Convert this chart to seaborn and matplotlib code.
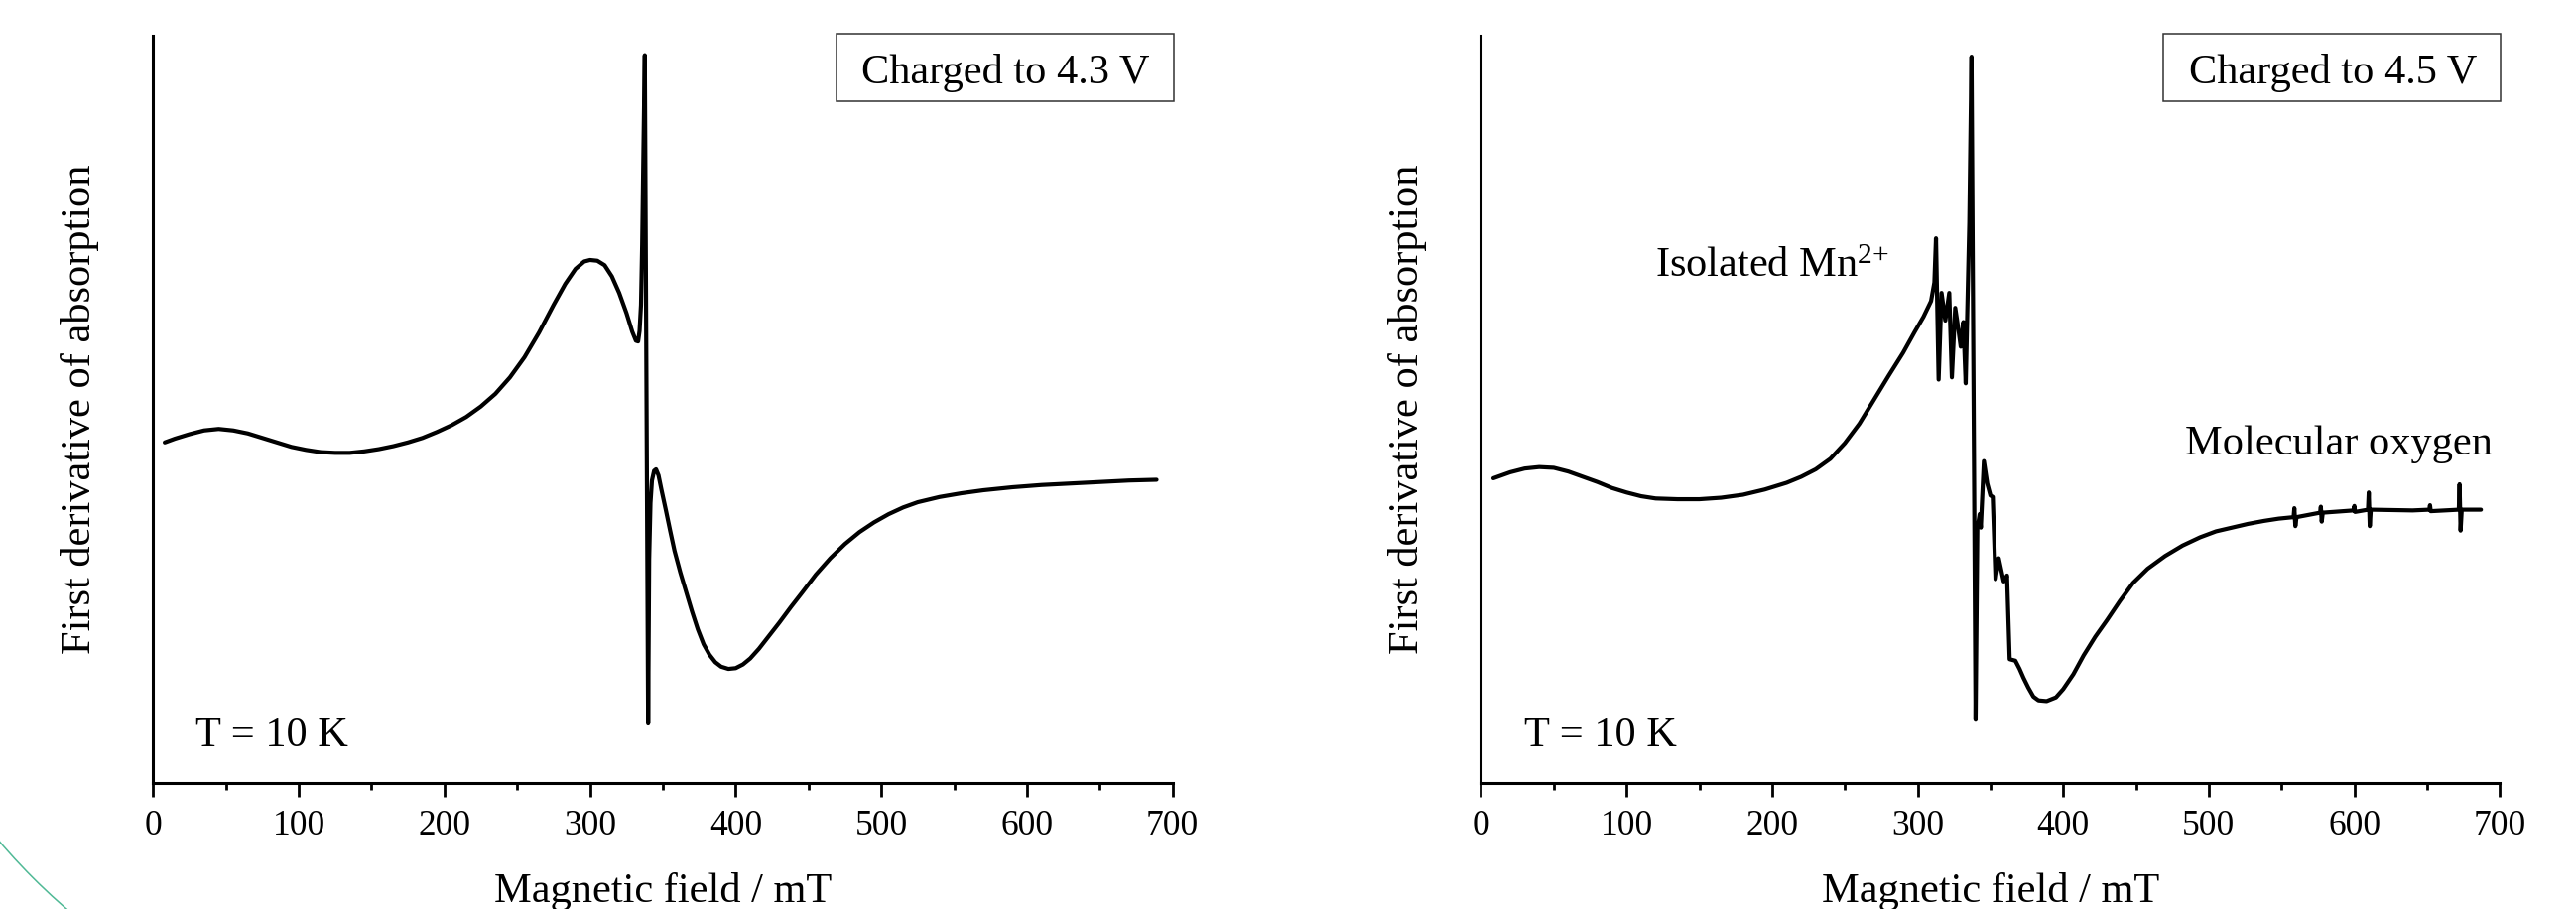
import matplotlib
matplotlib.use("Agg")
import matplotlib.pyplot as plt
from matplotlib.patches import Rectangle, Arc
import seaborn as sns
import pandas as pd

# ---------------- data (arbitrary intensity units) ----------------
field_43 = [8, 15, 25, 35, 45, 55, 65, 75, 85, 95, 105, 115, 125, 135, 145, 155, 165, 175,
            185, 195, 205, 215, 225, 235, 245, 255, 265, 275, 283, 290, 296, 300, 305, 310,
            315, 320, 325, 329, 331.5, 333, 334, 335, 335.8, 336.7, 337.6, 339.9, 340.6,
            341.5, 342.5, 344, 345.3, 347, 349, 352, 355, 358, 362, 366, 370, 374, 378,
            382, 386, 390, 395, 400, 405, 410, 416, 422, 430, 438, 446, 455, 465, 475, 485,
            495, 505, 515, 525, 540, 555, 570, 590, 610, 630, 650, 670, 689]
signal_43 = [45.6, 46.1, 46.7, 47.2, 47.4, 47.2, 46.8, 46.2, 45.6, 45.0, 44.6, 44.3, 44.2,
             44.2, 44.4, 44.7, 45.1, 45.6, 46.2, 47.0, 47.9, 49.0, 50.4, 52.1, 54.3, 57.0,
             60.3, 64.0, 66.8, 68.8, 69.8, 70.0, 69.9, 69.3, 67.8, 65.6, 62.9, 60.4, 59.2,
             59.1, 60.5, 64.0, 72.0, 85.0, 97.4, 8.0, 30.0, 37.5, 40.5, 41.8, 42.0, 41.2,
             39.3, 36.6, 33.8, 31.1, 28.2, 25.6, 23.0, 20.6, 18.6, 17.2, 16.2, 15.6, 15.3,
             15.4, 15.9, 16.7, 18.0, 19.5, 21.5, 23.6, 25.6, 27.9, 30.1, 32.0, 33.6, 34.9,
             36.0, 36.9, 37.6, 38.3, 38.8, 39.2, 39.6, 39.9, 40.1, 40.3, 40.5, 40.6]

field_45 = [8.5, 20, 30, 40, 50, 60, 70, 80, 90, 100, 110, 120, 135, 150, 165, 180, 195, 210,
            220, 230, 240, 250, 260, 270, 280, 290, 298, 304, 309.2, 311.5, 312.6, 314.4,
            316.4, 319.0, 321.7, 323.5, 325.8, 328.0, 329.6, 331.4, 333.0, 335.5, 337.0,
            339.8, 341.0, 342.6, 343.4, 345.5, 347.8, 350.0, 351.6, 353.5, 355.7, 359.1,
            361.4, 363.2, 367.1, 370, 372.7, 376, 379.5, 383, 388.6, 395, 400, 407, 414,
            422, 430, 439, 448, 458, 470, 482, 494, 505, 516, 527, 538, 548, 558.3, 558.8,
            559.5, 560.3, 576.5, 577.0, 577.6, 578.3, 599.5, 600.0, 600.5, 609.4, 609.9,
            610.6, 611.3, 640, 651.5, 652.0, 652.5, 671.8, 672.3, 673.0, 673.8, 687]
signal_45 = [40.8, 41.6, 42.1, 42.3, 42.2, 41.7, 41.0, 40.3, 39.5, 38.9, 38.4, 38.1, 38.0,
             38.0, 38.2, 38.6, 39.3, 40.2, 41.0, 42.0, 43.4, 45.5, 48.1, 51.3, 54.5, 57.6,
             60.4, 62.4, 64.5, 67.0, 72.9, 54.0, 65.6, 61.9, 65.6, 54.3, 63.6, 60.7, 58.4,
             61.7, 53.5, 75.0, 97.2, 8.5, 34.0, 36.0, 34.2, 43.1, 40.1, 38.5, 38.3, 27.3,
             30.1, 27.0, 27.8, 16.6, 16.4, 15.3, 14.1, 12.8, 11.6, 11.1, 11.0, 11.5, 12.6,
             14.6, 17.1, 19.6, 21.8, 24.4, 26.8, 28.7, 30.4, 31.8, 32.9, 33.7, 34.2, 34.7,
             35.1, 35.4, 35.6, 36.8, 34.4, 35.6, 36.2, 37.0, 35.0, 36.2, 36.5, 37.1, 36.3,
             36.6, 38.9, 34.4, 36.6, 36.5, 36.6, 37.2, 36.4, 36.6, 40.0, 33.8, 36.6, 36.6]

x_ticks = [0, 100, 200, 300, 400, 500, 600, 700]
x_minor_ticks = [50, 150, 250, 350, 450, 550, 650]
panel_titles = ["Charged to 4.3 V", "Charged to 4.5 V"]
temperature_label = "T = 10 K"
x_label = "Magnetic field / mT"
y_label = "First derivative of absorption"
mn_label = "Isolated Mn$^{2{+}}$"
o2_label = "Molecular oxygen"

# ---------------- style ----------------
sns.set_theme(style="ticks")
plt.rcParams["font.family"] = ["Liberation Serif", "DejaVu Serif"]
plt.rcParams["mathtext.fontset"] = "custom"
plt.rcParams["mathtext.rm"] = "Liberation Serif"
plt.rcParams["mathtext.it"] = "Liberation Serif:italic"
plt.rcParams["axes.edgecolor"] = "black"

MAIN_FS = 30.5
TICK_FS = 25.5

fig = plt.figure(figsize=(25.96, 9.16), dpi=100)
ax_l = fig.add_axes([0.05944, 0.13832, 0.39576, 0.82238])
ax_r = fig.add_axes([0.57492, 0.13832, 0.39553, 0.82238])

df43 = pd.DataFrame({"field": field_43, "signal": signal_43})
df45 = pd.DataFrame({"field": field_45, "signal": signal_45})

for ax, df, title in [(ax_l, df43, panel_titles[0]), (ax_r, df45, panel_titles[1])]:
    sns.lineplot(data=df, x="field", y="signal", ax=ax, color="black", linewidth=3.0,
                 sort=False, estimator=None)
    ax.set_xlim(0, 700)
    ax.set_ylim(0, 100)
    ax.set_xticks(x_ticks)
    ax.set_xticklabels([str(t) for t in x_ticks])
    ax.set_xticks(x_minor_ticks, minor=True)
    ax.set_yticks([])
    for s in ["top", "right"]:
        ax.spines[s].set_visible(False)
    for s in ["left", "bottom"]:
        ax.spines[s].set_linewidth(2.2)
        ax.spines[s].set_color("black")
    ax.tick_params(axis="x", which="major", direction="out", length=10, width=2.0,
                   labelsize=TICK_FS, pad=9.5, colors="black")
    ax.tick_params(axis="x", which="minor", direction="out", length=5, width=2.0,
                   colors="black")
    ax.set_xlabel(x_label, fontsize=MAIN_FS, color="black")
    ax.xaxis.set_label_coords(0.5, -0.159)
    ax.xaxis.label.set_verticalalignment("baseline")
    ax.set_ylabel(y_label, fontsize=MAIN_FS, color="black")
    ax.yaxis.set_label_coords(-0.053, 0.5)

    # title box at top right
    ax.add_patch(Rectangle((0.670, 0.9128), 0.331, 0.0899, transform=ax.transAxes,
                           fill=False, edgecolor="#333333", linewidth=1.1, clip_on=False))
    ax.text(0.8358, 0.9363, title, transform=ax.transAxes, ha="center", va="baseline",
            fontsize=MAIN_FS, color="black")
    ax.text(0.042, 0.050, temperature_label, transform=ax.transAxes, ha="left",
            va="baseline", fontsize=MAIN_FS, color="black")

ax_r.text(0.1705, 0.678, mn_label, transform=ax_r.transAxes, ha="left",
          va="baseline", fontsize=MAIN_FS, color="black")
ax_r.text(0.6907, 0.4394, o2_label, transform=ax_r.transAxes, ha="left",
          va="baseline", fontsize=MAIN_FS, color="black")

# decorative teal arc in the lower-left corner of the slide
fig.add_artist(Arc((4.76, 4.74), 12.52, 12.52, theta1=212, theta2=238,
                   transform=fig.dpi_scale_trans, color="#4fb995", linewidth=1.1))

fig.savefig("out.png", dpi=100)
